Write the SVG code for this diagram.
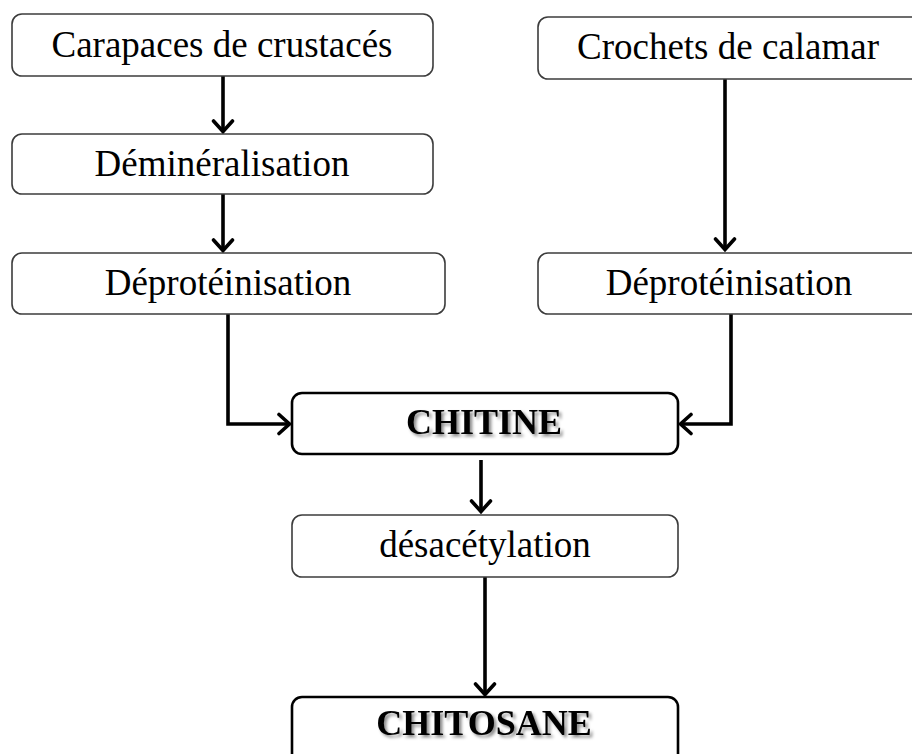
<svg xmlns="http://www.w3.org/2000/svg" width="912" height="754" viewBox="0 0 912 754">
<defs>
<style>
.box{fill:#fff;stroke:#3c3c3c;stroke-width:1.6}
.bbox{fill:#fff;stroke:#000;stroke-width:2.6}
.t{font-family:"Liberation Serif","Times New Roman",serif;font-size:37px;fill:#000;text-anchor:middle}
.b{font-size:36px;font-weight:bold;filter:url(#sh)}
.c{fill:none;stroke:#000;stroke-width:3.6}
</style>
<filter id="sh" x="-10%" y="-30%" width="130%" height="180%">
<feDropShadow dx="2.5" dy="2.5" stdDeviation="1.5" flood-color="#000" flood-opacity="0.45"/>
</filter>
<marker id="ah" markerUnits="userSpaceOnUse" markerWidth="24" markerHeight="24" viewBox="-14 -12 16 24" refX="0" refY="0" orient="auto">
<path d="M-11,-9.5 L-0.5,0 L-11,9.5" fill="none" stroke="#000" stroke-width="3.6" stroke-linecap="round" stroke-linejoin="miter"/>
</marker>
</defs>
<rect width="912" height="754" fill="#fff"/>
<g id="connectors">
<path class="c" d="M223,76 V132" marker-end="url(#ah)"/>
<path class="c" d="M223,194 V251" marker-end="url(#ah)"/>
<path class="c" d="M725,79 V250" marker-end="url(#ah)"/>
<path class="c" d="M228,314 V424 H290" marker-end="url(#ah)"/>
<path class="c" d="M731,314 V424 H680" marker-end="url(#ah)"/>
<path class="c" d="M481,460 V512" marker-end="url(#ah)"/>
<path class="c" d="M485,577 V695" marker-end="url(#ah)"/>
</g>
<g id="n-carapaces"><rect class="box" x="12" y="14" width="421" height="62" rx="10"/><text class="t" x="222" y="57">Carapaces de crustacés</text></g>
<g id="n-demin"><rect class="box" x="12" y="134" width="421" height="60" rx="10"/><text class="t" x="222" y="176">Déminéralisation</text></g>
<g id="n-deprot-l"><rect class="box" x="12" y="253" width="433" height="61" rx="10"/><text class="t" x="228" y="295">Déprotéinisation</text></g>
<g id="n-crochets"><rect class="box" x="538" y="17" width="384" height="62" rx="10"/><text class="t" x="728" y="59">Crochets de calamar</text></g>
<g id="n-deprot-r"><rect class="box" x="538" y="253" width="384" height="61" rx="10"/><text class="t" x="729" y="295">Déprotéinisation</text></g>
<g id="n-chitine"><rect class="bbox" x="292" y="393" width="386" height="61" rx="10"/><text class="t b" x="484" y="434">CHITINE</text></g>
<g id="n-desac"><rect class="box" x="292" y="515" width="386" height="62" rx="10"/><text class="t" x="485" y="557">désacétylation</text></g>
<g id="n-chitosane"><rect class="bbox" x="292" y="697" width="386" height="70" rx="10"/><text class="t b" x="484" y="735">CHITOSANE</text></g>
</svg>
